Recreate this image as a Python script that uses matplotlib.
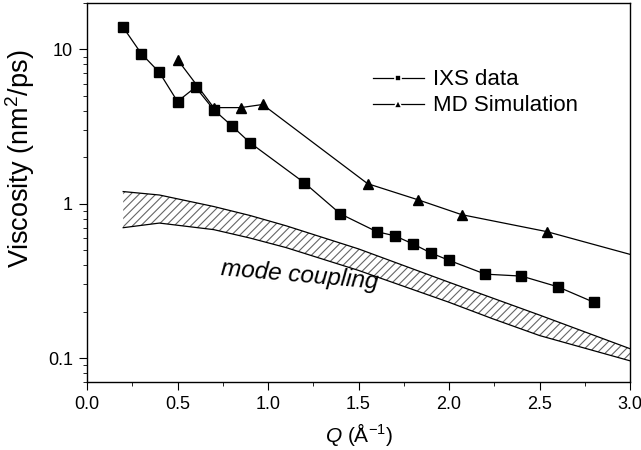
import matplotlib
matplotlib.use("Agg")
import matplotlib.pyplot as plt
from matplotlib.ticker import MultipleLocator, FixedLocator, NullFormatter

plt.rcParams["font.family"] = ["Liberation Sans", "DejaVu Sans"]
plt.rcParams["mathtext.fontset"] = "custom"
plt.rcParams["mathtext.rm"] = "Liberation Sans"
plt.rcParams["mathtext.it"] = "Liberation Sans:italic"
plt.rcParams["hatch.color"] = "#666666"
plt.rcParams["hatch.linewidth"] = 0.8

# IXS data
ixs_q = [0.2, 0.3, 0.4, 0.5, 0.6, 0.7, 0.8, 0.9, 1.2, 1.4, 1.6, 1.7, 1.8, 1.9, 2.0, 2.2, 2.4, 2.6, 2.8]
ixs_v = [13.9, 9.4, 7.1, 4.6, 5.7, 4.07, 3.2, 2.49, 1.37, 0.86, 0.66, 0.62, 0.55, 0.48, 0.43, 0.35, 0.34, 0.29, 0.23]

# MD simulation
md_q = [0.5, 0.7, 0.85, 0.97, 1.55, 1.83, 2.07, 2.54, 3.0]
md_v = [8.6, 4.2, 4.2, 4.4, 1.35, 1.06, 0.85, 0.66, 0.47]
md_marker_q = md_q[:-1]
md_marker_v = md_v[:-1]

# mode coupling band
mc_q = [0.2, 0.4, 0.7, 0.9, 1.1, 1.5, 2.0, 2.24, 2.5, 3.0]
mc_upper = [1.20, 1.14, 0.96, 0.84, 0.72, 0.51, 0.31, 0.245, 0.19, 0.115]
mc_lower = [0.70, 0.75, 0.68, 0.60, 0.52, 0.37, 0.23, 0.18, 0.14, 0.096]

fig = plt.figure(figsize=(6.41, 4.5), dpi=100)
ax = fig.add_axes([0.1357, 0.1511, 0.8473, 0.8422])

ax.fill_between(mc_q, mc_lower, mc_upper, facecolor="white", hatch="////", linewidth=0)
ax.plot(mc_q, mc_upper, color="black", lw=0.9)
ax.plot(mc_q, mc_lower, color="black", lw=0.9)

ax.plot(ixs_q, ixs_v, color="black", lw=0.9, marker="s", ms=6.5)
ax.plot(md_q, md_v, color="black", lw=0.9)
ax.plot(md_marker_q, md_marker_v, ls="none", marker="^", color="black", ms=7.5)

# legend handles
ax.plot([], [], color="black", lw=0.9, marker="s", ms=4.5, mec="white", mew=1.2, label="IXS data")
ax.plot([], [], color="black", lw=0.9, marker="^", ms=5.5, mec="white", mew=1.2, label="MD Simulation")

ax.text(1.177, 0.345, "mode coupling", style="italic", fontsize=17.5,
        ha="center", va="center", rotation=-5)

ax.set_yscale("log")
ax.set_xlim(0, 3.0)
ax.set_ylim(0.07, 20)
ax.xaxis.set_major_locator(MultipleLocator(0.5))
ax.xaxis.set_minor_locator(MultipleLocator(0.25))
ax.yaxis.set_major_locator(FixedLocator([0.1, 1, 10]))
ax.set_yticklabels(["0.1", "1", "10"])
ax.yaxis.set_minor_formatter(NullFormatter())
ax.tick_params(which="both", direction="out", top=False, right=False, labelsize=13)
ax.tick_params(which="major", length=6, pad=4)
ax.tick_params(which="minor", length=3)
for s in ax.spines.values():
    s.set_linewidth(1.0)

ax.set_xlabel("$\\mathit{Q}$ (Å$^{-1}$)", fontsize=15, labelpad=6)
ax.set_ylabel("Viscosity (nm$^2$/ps)", fontsize=19.5)
ax.yaxis.set_label_coords(-0.092, 0.59)

ax.legend(loc="center left", bbox_to_anchor=(0.489, 0.763), frameon=False, fontsize=16,
          handlelength=2.3, handletextpad=0.4, labelspacing=0.22)

fig.savefig("out.png", dpi=100)
